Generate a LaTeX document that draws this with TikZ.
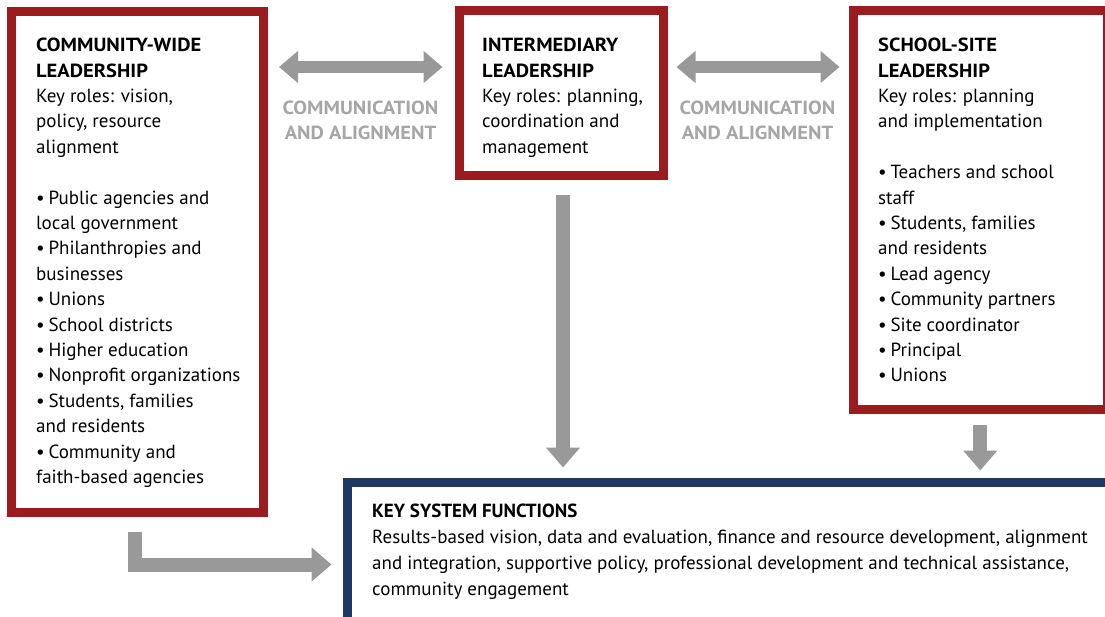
\documentclass[tikz,border=0pt]{standalone}
\usepackage{fontspec}
\setmainfont{PT Sans}[BoldFeatures={FakeStretch=1.08}]
\newfontfamily\ksfont{PT Sans}
\usetikzlibrary{arrows.meta}

\definecolor{boxred}{HTML}{9B1B1F}
\definecolor{boxblue}{HTML}{1F3763}
\definecolor{arrowgray}{HTML}{999999}
\definecolor{labelgray}{HTML}{A6A6A6}

% bullet with a tight gap, as in the lists
\newcommand\bulitem{•\hspace{0.2em}}

\begin{document}
\begin{tikzpicture}[x=1pt,y=-1pt,
  redbox/.style={draw=boxred,line width=9pt,anchor=north west,inner sep=0pt},
  bluebox/.style={draw=boxblue,line width=9pt,anchor=north west,inner sep=0pt},
  boxtext/.style={anchor=north west,inner sep=0pt,align=left,
    font=\fontsize{19}{25.4}\selectfont},
  commlabel/.style={inner sep=0pt,align=center,text=labelgray,
    font=\fontsize{19}{25}\selectfont\bfseries},
  flow/.style={draw=arrowgray,line width=14pt,line join=miter,
    -{Triangle[length=20pt,width=33pt]}},
  twoway/.style={draw=arrowgray,line width=12pt,
    {Triangle[length=19pt,width=31pt]}-{Triangle[length=19pt,width=31pt]}}
]
\useasboundingbox (0,0) rectangle (1105,617);

% leadership boxes (placed by their outer corners)
\node[redbox,minimum width=252pt,minimum height=501pt] (cw) at (7,7) {};
\node[redbox,minimum width=204pt,minimum height=165.5pt] (im) at (454.5,6) {};
\node[redbox,minimum width=254.5pt,minimum height=398.5pt] (ss) at (848.5,6) {};
\node[bluebox,minimum width=762pt,minimum height=143pt] (ks) at (342.5,477.5) {};

% box contents
\node[boxtext] (cwtext) at (36,38) {%
  \textbf{COMMUNITY-WIDE}\\
  \textbf{LEADERSHIP}\\
  Key roles: vision,\\
  policy, resource\\
  alignment\\[25.4pt]
  \bulitem Public agencies and\\
  local government\\
  \bulitem Philanthropies and\\
  businesses\\
  \bulitem Unions\\
  \bulitem School districts\\
  \bulitem Higher education\\
  \bulitem Nonprofit organizations\\
  \bulitem Students, families\\
  and residents\\
  \bulitem Community and\\
  faith-based agencies};

\node[boxtext] (imtext) at (482,38) {%
  \textbf{INTERMEDIARY}\\
  \textbf{LEADERSHIP}\\
  Key roles: planning,\\
  coordination and\\
  management};

\node[boxtext] (sstext) at (878,38) {%
  \textbf{SCHOOL-SITE}\\
  \textbf{LEADERSHIP}\\
  Key roles: planning\\
  and implementation\\[25.4pt]
  \bulitem Teachers and school\\
  staff\\
  \bulitem Students, families\\
  and residents\\
  \bulitem Lead agency\\
  \bulitem Community partners\\
  \bulitem Site coordinator\\
  \bulitem Principal\\
  \bulitem Unions};

\node[boxtext,font=\ksfont\fontsize{19}{26}\selectfont] (kstext) at (372,504) {%
  \textbf{KEY SYSTEM FUNCTIONS}\\
  Results-based vision, data and evaluation, finance and resource development, alignment\\
  and integration, supportive policy, professional development and technical assistance,\\
  community engagement};

% communication labels
\node[commlabel] (comm1) at (360.5,120.5) {COMMUNICATION\\AND ALIGNMENT};
\node[commlabel] (comm2) at (757.5,120.5) {COMMUNICATION\\AND ALIGNMENT};

% connectors
\coordinate (rowA) at (0,67);
\coordinate (rowB) at (0,564.5);
\draw[twoway,shorten <=11pt,shorten >=12pt] (cw.east |- rowA) -- (im.west |- rowA);
\draw[twoway,shorten <=9pt,shorten >=9pt] (im.east |- rowA) -- (ss.west |- rowA);
\draw[flow,shorten <=15pt,shorten >=10pt] ([xshift=2pt]im.south) -- ([xshift=2pt]im.south |- ks.north);
\draw[flow,shorten <=11pt,shorten >=7pt] (ss.south) -- (ss.south |- ks.north);
\draw[flow,shorten <=15pt,shorten >=11pt] ([xshift=-2.5pt]cw.south) |- (ks.west |- rowB);
\end{tikzpicture}
\end{document}
